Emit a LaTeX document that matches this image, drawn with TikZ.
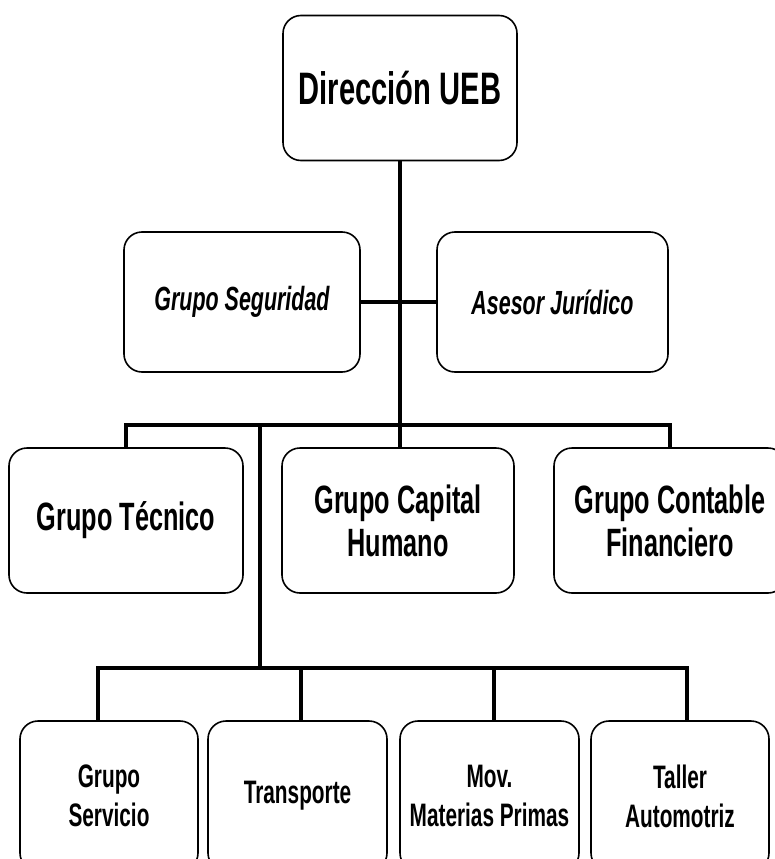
\documentclass[tikz,border=0pt]{standalone}
\usepackage{fontspec}
\newfontfamily\orgfont{Liberation Sans}[FakeStretch=0.64]
\usetikzlibrary{positioning}

\begin{document}
\begin{tikzpicture}[x=1pt,y=-1pt]
  \tikzset{BoxStyle/.style = {shape          = rectangle,
                              draw, black,
                              line width     = 1.6pt,
                              rounded corners= 18pt,
                              align          = center,
                              inner sep      = 0pt,
                              text           = black}}
  \tikzset{BigText/.style   = {font=\orgfont\bfseries\fontsize{45.5}{52}\selectfont}}
  \tikzset{MidText/.style   = {font=\orgfont\bfseries\fontsize{39.5}{43}\selectfont}}
  \tikzset{StaffText/.style = {font=\orgfont\bfseries\itshape\fontsize{33.5}{38}\selectfont}}
  \tikzset{SmallText/.style = {font=\orgfont\bfseries\fontsize{32.5}{39}\selectfont}}
  \tikzset{LinkStyle/.style = {line width=4.5pt}}
  \useasboundingbox (0,0) rectangle (775,859);
	%%% DIRECCION %%%
	\node[BoxStyle, BigText, minimum width=234pt, minimum height=145pt](dir) at (400,88){Dirección UEB};
	%%% STAFF %%%
	\node[BoxStyle, StaffText, minimum width=236pt, minimum height=140pt](seg) at (242,302){Grupo Seguridad};
	\node[BoxStyle, StaffText, minimum width=231pt, minimum height=140pt](ase) at (552.5,302){Asesor Jurídico};
	%%% GRUPOS %%%
	\node[BoxStyle, MidText, minimum width=234pt, minimum height=145pt](tec) at (126,520.5){Grupo Técnico};
	\node[BoxStyle, MidText, minimum width=232pt, minimum height=145pt](cap) at (398,520.5){Grupo Capital\\Humano};
	\node[BoxStyle, MidText, minimum width=232pt, minimum height=145pt](con) at (670,520.5){Grupo Contable\\Financiero};
	%%% AREAS DE ABAJO %%%
	\node[BoxStyle, SmallText, minimum width=178pt, minimum height=150pt](ser) at (109,796){Grupo\\Servicio};
	\node[BoxStyle, SmallText, minimum width=179pt, minimum height=150pt](tra) at (297.5,796){Transporte};
	\node[BoxStyle, SmallText, minimum width=179pt, minimum height=150pt](mov) at (489.5,796){Mov.\\Materias Primas};
	\node[BoxStyle, SmallText, minimum width=178pt, minimum height=150pt](tal) at (680,796){Taller\\Automotriz};
	%%% LIGAS %%%
	\coordinate (j1) at (400,425);
	\coordinate (jb) at (260,425);
	\coordinate (j2) at (260,668);
	\coordinate (b1) at (98,668);
	\coordinate (b2) at (301,668);
	\coordinate (b3) at (494,668);
	\coordinate (b4) at (687,668);
	\draw[LinkStyle](dir) -- (j1);
	\draw[LinkStyle](seg) -- (ase);
	\draw[LinkStyle](tec) |- (j1) -| (con);
	\draw[LinkStyle](j1) -- (j1 |- cap.north);
	\draw[LinkStyle](jb) -- (j2);
	\draw[LinkStyle](b1 |- ser.north) |- (j2) -| (b4 |- tal.north);
	\draw[LinkStyle](b2) -- (b2 |- tra.north);
	\draw[LinkStyle](b3) -- (b3 |- mov.north);
\end{tikzpicture}
\end{document}
